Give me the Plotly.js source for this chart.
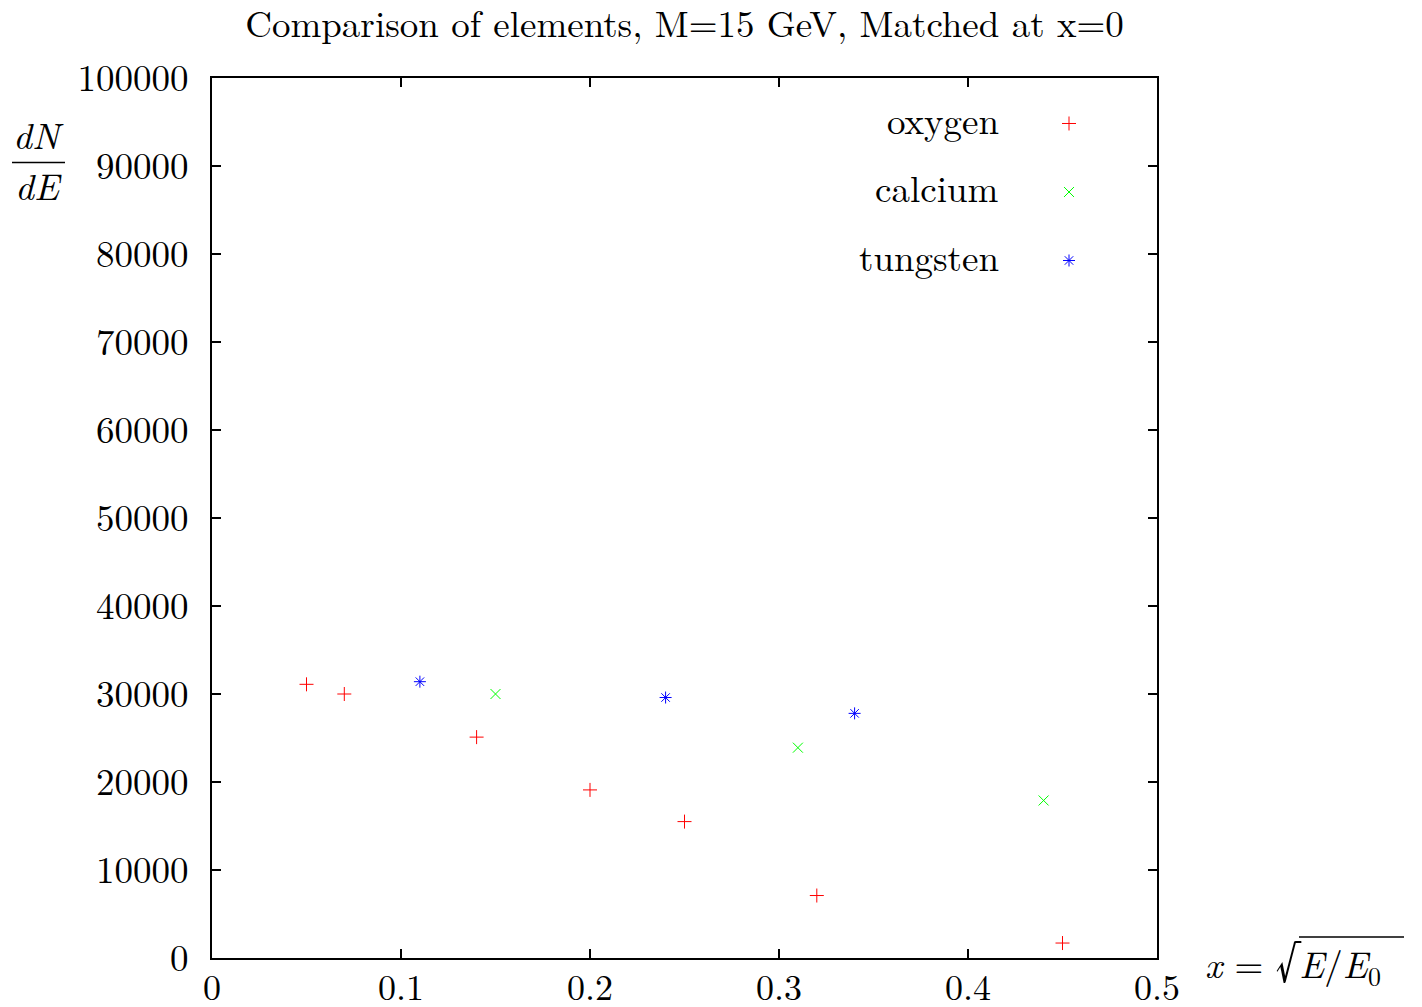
<!DOCTYPE html>
<html>
<head>
<meta charset="utf-8">
<script src="https://cdn.plot.ly/plotly-3.0.1.min.js"></script>
<style>html,body{margin:0;padding:0;background:#fff;}#chart{width:1422px;height:1007px;}</style>
</head>
<body>
<div id="chart"></div>
<script>
// Data
const oxygenX = [0.05, 0.07, 0.14, 0.20, 0.25, 0.32, 0.45];
const oxygenY = [31100, 30000, 25100, 19100, 15500, 7100, 1700];
const calciumX = [0.15, 0.31, 0.44];
const calciumY = [30000, 23900, 17900];
const tungstenX = [0.11, 0.24, 0.34];
const tungstenY = [31400, 29600, 27800];
const seriesNames = ["oxygen", "calcium", "tungsten"];
const xTicks = [0, 0.1, 0.2, 0.3, 0.4, 0.5];
const xTickText = ["0", "0.1", "0.2", "0.3", "0.4", "0.5"];
const yTicks = [0, 10000, 20000, 30000, 40000, 50000, 60000, 70000, 80000, 90000, 100000];
const yTickText = ["0", "10000", "20000", "30000", "40000", "50000", "60000", "70000", "80000", "90000", "100000"];

const FONT = "'Latin Modern Roman', 'CMU Serif', 'Liberation Serif', 'DejaVu Serif', serif";
const FS = 37;

function tr(x, y, name, color, symbol, group) {
  return {
    x: x, y: y, type: 'scatter', mode: 'markers', name: ' ', legendgroup: group,
    marker: {symbol: symbol, size: 10, color: color, line: {color: color, width: 1}},
    hoverinfo: 'x+y'
  };
}

const data = [
  tr(oxygenX, oxygenY, seriesNames[0], '#ff0000', 'cross-thin-open', 'a'),
  tr(calciumX, calciumY, seriesNames[1], '#00ff00', 'x-thin-open', 'b'),
  tr(tungstenX, tungstenY, seriesNames[2], '#0000ff', 'asterisk-open', 'c')
];

const L = 212, R = 1157, T = 77.5, B = 958;
const W = 1422, H = 1007;
const pw = R - L, ph = B - T;
function px(xpix) { return (xpix - L) / pw; }
function py(ypix) { return (B - ypix) / ph; }

const layout = {
  width: W, height: H,
  margin: {l: L, r: W - R, t: T, b: H - B, pad: 0},
  paper_bgcolor: '#ffffff', plot_bgcolor: '#ffffff',
  font: {family: FONT, size: FS, color: '#000000'},
  title: {text: 'Comparison of elements, M=15 GeV, Matched at x=0', font: {family: FONT, size: FS, color: '#000'},
          x: 0.5, xref: 'paper', xanchor: 'center', y: 1 - 24 / H, yanchor: 'middle'},
  showlegend: true,
  legend: {x: px(1049), y: py(97), xanchor: 'left', yanchor: 'top', bgcolor: 'rgba(0,0,0,0)',
           font: {family: FONT, size: 30}, tracegroupgap: 26.5, itemwidth: 30},
  xaxis: {range: [0, 0.5], tickvals: xTicks, ticktext: xTickText, ticks: 'inside', ticklen: 9, tickwidth: 1.5,
          tickcolor: '#000', showline: true, linecolor: '#000', linewidth: 2, mirror: 'ticks',
          showgrid: false, zeroline: false, tickfont: {family: FONT, size: 36}, fixedrange: true,
          ticklabelstandoff: -3},
  yaxis: {range: [0, 100000], tickvals: yTicks, ticktext: yTickText, ticks: 'inside', ticklen: 9, tickwidth: 1.5,
          tickcolor: '#000', showline: true, linecolor: '#000', linewidth: 2, mirror: 'ticks',
          showgrid: false, zeroline: false, tickfont: {family: FONT, size: FS}, fixedrange: true,
          ticklabelstandoff: 14},
  annotations: [
    {text: seriesNames[0], xref: 'paper', yref: 'paper', x: px(1001), y: py(118), xanchor: 'right', yanchor: 'middle', showarrow: false, font: {family: FONT, size: FS}},
    {text: seriesNames[1], xref: 'paper', yref: 'paper', x: px(1001), y: py(186), xanchor: 'right', yanchor: 'middle', showarrow: false, font: {family: FONT, size: FS}},
    {text: seriesNames[2], xref: 'paper', yref: 'paper', x: px(1001), y: py(255), xanchor: 'right', yanchor: 'middle', showarrow: false, font: {family: FONT, size: FS}},
    {text: '<i>dN</i>', xref: 'paper', yref: 'paper', x: px(38), y: py(133), xanchor: 'center', yanchor: 'middle', showarrow: false, font: {family: FONT, size: FS}},
    {text: '<i>dE</i>', xref: 'paper', yref: 'paper', x: px(38), y: py(184), xanchor: 'center', yanchor: 'middle', showarrow: false, font: {family: FONT, size: FS}},
    {text: '<i>x</i> = <span style="font-size:50px">√</span><i>E</i>/<i>E</i><sub>0</sub>', xref: 'paper', yref: 'paper', x: px(1203), y: py(958), xanchor: 'left', yanchor: 'middle', showarrow: false, font: {family: FONT, size: FS}}
  ],
  shapes: [
    {type: 'line', xref: 'paper', yref: 'paper', x0: px(12), x1: px(65), y0: py(162), y1: py(162), line: {color: '#000', width: 1.5}},
    {type: 'line', xref: 'paper', yref: 'paper', x0: px(1299), x1: px(1404), y0: py(937), y1: py(937), line: {color: '#000', width: 1.5}}
  ]
};

Plotly.newPlot('chart', data, layout, {displayModeBar: false, staticPlot: false});
</script>
</body>
</html>
